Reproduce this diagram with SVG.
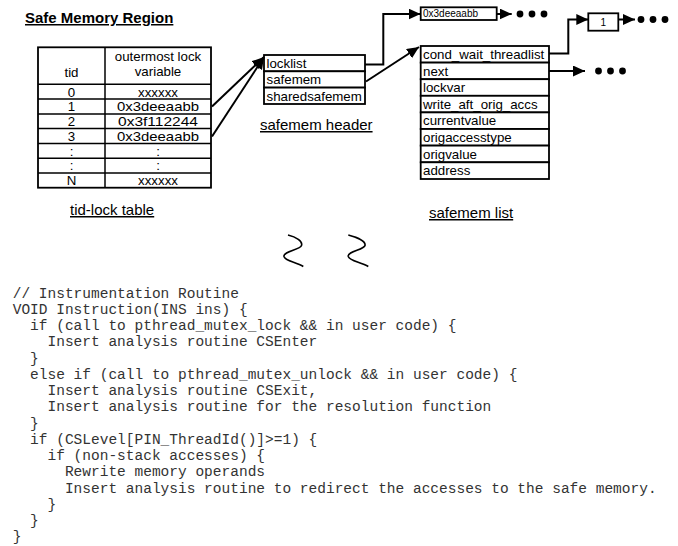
<svg xmlns="http://www.w3.org/2000/svg" width="678" height="546" viewBox="0 0 678 546">
<defs>
<marker id="ah" markerUnits="userSpaceOnUse" markerWidth="13" markerHeight="12" refX="12" refY="5.5" orient="auto">
<path d="M0,0 L12,5.5 L0,11 Z" fill="#000"/>
</marker>
<style>
.lbl{font-family:"Liberation Sans",Arial,sans-serif;font-size:15px;fill:#000;text-decoration:underline}
.ttl{font-family:"Liberation Sans",Arial,sans-serif;font-size:15px;font-weight:bold;fill:#000;text-decoration:underline}
.t{font-family:"Liberation Sans",Arial,sans-serif;font-size:13.3px;fill:#000}
.tc{font-family:"Liberation Sans",Arial,sans-serif;font-size:13.3px;fill:#000;text-anchor:middle}
.sm{font-family:"Liberation Sans",Arial,sans-serif;font-size:10px;fill:#000}
.box{fill:#fff;stroke:#000;stroke-width:1.8}
.ln{stroke:#000;stroke-width:1.5;fill:none}
.cn{stroke:#000;stroke-width:2;fill:none}
.code{font-family:"Liberation Mono","Courier New",monospace;font-size:14.5px;fill:#333;white-space:pre}
.sq{stroke:#000;stroke-width:1.6;fill:none}
</style>
</defs>
<rect width="678" height="546" fill="#fff"/>
<text class="ttl" x="25" y="23">Safe Memory Region</text>

<g id="tid-lock-table">
<rect class="box" x="38" y="47.3" width="173" height="140.4"/>
<line class="ln" x1="105" y1="47.3" x2="105" y2="187.7"/>
<line class="ln" x1="38" y1="84.3" x2="211" y2="84.3"/>
<line class="ln" x1="38" y1="99.1" x2="211" y2="99.1"/>
<line class="ln" x1="38" y1="113.9" x2="211" y2="113.9"/>
<line class="ln" x1="38" y1="128.6" x2="211" y2="128.6"/>
<line class="ln" x1="38" y1="143.4" x2="211" y2="143.4"/>
<line class="ln" x1="38" y1="158.2" x2="211" y2="158.2"/>
<line class="ln" x1="38" y1="172.9" x2="211" y2="172.9"/>
<text class="tc" x="71.5" y="77">tid</text>
<text class="tc" x="158" y="61">outermost lock</text>
<text class="tc" x="158" y="76">variable</text>
<text class="tc" x="71.5" y="96.5">0</text><text class="tc" x="158" y="96.5">xxxxxx</text>
<text class="tc" x="71.5" y="111.3">1</text><text class="tc" x="158" y="111.3" textLength="82" lengthAdjust="spacingAndGlyphs">0x3deeaabb</text>
<text class="tc" x="71.5" y="126.1">2</text><text class="tc" x="158" y="126.1" textLength="80" lengthAdjust="spacingAndGlyphs">0x3f112244</text>
<text class="tc" x="71.5" y="140.8">3</text><text class="tc" x="158" y="140.8" textLength="82" lengthAdjust="spacingAndGlyphs">0x3deeaabb</text>
<text class="tc" x="71.5" y="155.6">:</text><text class="tc" x="158" y="155.6">:</text>
<text class="tc" x="71.5" y="170.4">:</text><text class="tc" x="158" y="170.4">:</text>
<text class="tc" x="71.5" y="185.1">N</text><text class="tc" x="158" y="185.1">xxxxxx</text>
<text class="lbl" x="70" y="215">tid-lock table</text>
</g>

<g id="safemem-header">
<rect class="box" x="264" y="55" width="101" height="16.3"/>
<rect class="box" x="264" y="71.3" width="101" height="16.3"/>
<rect class="box" x="264" y="87.6" width="101" height="16.4"/>
<text class="t" x="266.5" y="68">locklist</text>
<text class="t" x="266.5" y="84.3">safemem</text>
<text class="t" x="266.5" y="100.6">sharedsafemem</text>
<text class="lbl" x="260" y="130">safemem header</text>
</g>

<g id="safemem-list">
<rect class="box" x="420.7" y="46" width="128.3" height="16.6"/>
<rect class="box" x="420.7" y="62.6" width="128.3" height="16.6"/>
<rect class="box" x="420.7" y="79.2" width="128.3" height="16.6"/>
<rect class="box" x="420.7" y="95.8" width="128.3" height="16.6"/>
<rect class="box" x="420.7" y="112.4" width="128.3" height="16.6"/>
<rect class="box" x="420.7" y="129" width="128.3" height="16.6"/>
<rect class="box" x="420.7" y="145.6" width="128.3" height="16.7"/>
<rect class="box" x="420.7" y="162.3" width="128.3" height="16.7"/>
<text class="t" x="423" y="59">cond_wait_threadlist</text>
<text class="t" x="423" y="75.6">next</text>
<text class="t" x="423" y="92.2">lockvar</text>
<text class="t" x="423" y="108.8">write_aft_orig_accs</text>
<text class="t" x="423" y="125.4">currentvalue</text>
<text class="t" x="423" y="142">origaccesstype</text>
<text class="t" x="423" y="158.6">origvalue</text>
<text class="t" x="423" y="175.3">address</text>
<text class="lbl" x="429" y="218">safemem list</text>
</g>

<g id="lock-node">
<rect class="box" x="420.7" y="7.3" width="76" height="12.7"/>
<text class="sm" x="423" y="17.3">0x3deeaabb</text>
</g>

<g id="thread-node">
<rect class="box" x="588.3" y="13.3" width="30" height="17.4"/>
<text class="sm" x="603.3" y="25.5" text-anchor="middle">1</text>
</g>

<g id="connectors">
<line class="cn" x1="212" y1="106.5" x2="264" y2="57" marker-end="url(#ah)"/>
<line class="cn" x1="212" y1="136.5" x2="264" y2="57" marker-end="url(#ah)"/>
<polyline class="cn" points="365,64.5 383.3,64.5 383.3,14 420.5,14" marker-end="url(#ah)"/>
<line class="cn" x1="366" y1="81.5" x2="419" y2="47" marker-end="url(#ah)"/>
<line class="cn" x1="496.7" y1="14" x2="511.7" y2="14" marker-end="url(#ah)"/>
<polyline class="cn" points="549,53.5 568.3,53.5 568.3,19.5 588.3,19.5" marker-end="url(#ah)"/>
<line class="cn" x1="618.3" y1="19.5" x2="635" y2="19.5" marker-end="url(#ah)"/>
<line class="cn" x1="549" y1="71" x2="585" y2="71" marker-end="url(#ah)"/>
<circle cx="520" cy="14" r="3.4"/><circle cx="532" cy="14" r="3.4"/><circle cx="544" cy="14" r="3.4"/>
<circle cx="641" cy="19.5" r="3.4"/><circle cx="653" cy="19.5" r="3.4"/><circle cx="665" cy="19.5" r="3.4"/>
<circle cx="598.5" cy="71" r="3.4"/><circle cx="610.5" cy="71" r="3.4"/><circle cx="622.5" cy="71" r="3.4"/>
</g>

<g id="break-marks">
<path class="sq" d="M288,235 C296,237 303,241 301.5,245.5 C300,250 283,251 284,256.5 C285,261 296,262 303.3,266.5"/>
<path class="sq" d="M348.3,235 C356,237 366,241 365,245.5 C364,250 347,251 348.3,256.5 C349.5,261 361,262 368.3,266.5"/>
</g>

<g id="code">
<text class="code" x="12.7" y="297.5">// Instrumentation Routine</text>
<text class="code" x="12.7" y="313.75">VOID Instruction(INS ins) {</text>
<text class="code" x="12.7" y="330">  if (call to pthread_mutex_lock &amp;&amp; in user code) {</text>
<text class="code" x="12.7" y="346.25">    Insert analysis routine CSEnter</text>
<text class="code" x="12.7" y="362.5">  }</text>
<text class="code" x="12.7" y="378.75">  else if (call to pthread_mutex_unlock &amp;&amp; in user code) {</text>
<text class="code" x="12.7" y="395">    Insert analysis routine CSExit,</text>
<text class="code" x="12.7" y="411.25">    Insert analysis routine for the resolution function</text>
<text class="code" x="12.7" y="427.5">  }</text>
<text class="code" x="12.7" y="443.75">  if (CSLevel[PIN_ThreadId()]&gt;=1) {</text>
<text class="code" x="12.7" y="460">    if (non-stack accesses) {</text>
<text class="code" x="12.7" y="476.25">      Rewrite memory operands</text>
<text class="code" x="12.7" y="492.5">      Insert analysis routine to redirect the accesses to the safe memory.</text>
<text class="code" x="12.7" y="508.75">    }</text>
<text class="code" x="12.7" y="525">  }</text>
<text class="code" x="12.7" y="541.25">}</text>
</g>
</svg>
